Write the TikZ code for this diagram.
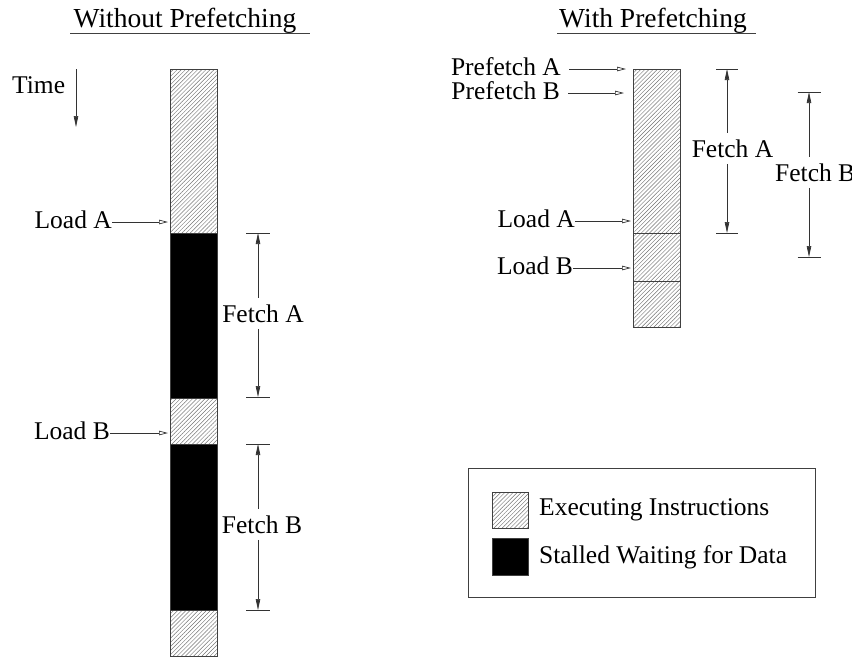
\documentclass[tikz,border=0pt]{standalone}
\usepackage{fontspec}
\setmainfont{Liberation Serif}
\usetikzlibrary{patterns.meta,arrows.meta}
\begin{document}
\begin{tikzpicture}[x=1pt,y=-1pt,
  lbl/.style={inner sep=0pt, font=\fontsize{25.5}{30}\selectfont},
  ttl/.style={inner sep=0pt, font=\fontsize{27.5}{32}\selectfont},
  dimlbl/.style={lbl, inner ysep=6.5pt},
  hatch/.style={draw=black!75, line width=0.8pt, pattern={Lines[angle=45,distance=2.9pt,line width=0.45pt]}, pattern color=black!55},
  stall/.style={draw=black!75, line width=0.8pt, fill=black},
  ptr/.style={draw=black!80, line width=0.7pt, -{Triangle[open,length=9pt,width=4.5pt]}},
  dimup/.style={draw=black!80, line width=0.7pt, {Triangle[length=11pt,width=4.5pt]}-},
  dimdown/.style={draw=black!80, line width=0.7pt, -{Triangle[length=11pt,width=4.5pt]}},
  tickline/.style={draw=black!80, line width=0.8pt},
  uline/.style={draw=black!75, line width=0.9pt}]
\useasboundingbox (0,0) rectangle (852,657);

% titles
\node[ttl, anchor=base] (t1) at (185,27) {Without Prefetching};
\node[ttl, anchor=base] (t2) at (653,27) {With Prefetching};
\draw[uline] (70,33) -- (310,33);
\draw[uline] (557,33) -- (756,33);

% time arrow
\node[lbl, anchor=base west] (time) at (12,93) {Time};
\coordinate (tm1) at (76,69);
\coordinate (tm2) at (76,127);
\draw[dimdown] (tm1) -- (tm2);

% left bar
\draw[hatch] (170,69) rectangle (217,233);
\draw[stall] (170,233) rectangle (217,398);
\draw[hatch] (170,398) rectangle (217,444);
\draw[stall] (170,444) rectangle (217,610);
\draw[hatch] (170,610) rectangle (217,656);

% right bar
\draw[hatch] (633,69) rectangle (680,233);
\draw[hatch] (633,233) rectangle (680,281);
\draw[hatch] (633,281) rectangle (680,327);

% left labels and pointers
\node[lbl, anchor=base east] (lla) at (112,228) {Load A};
\node[lbl, anchor=base east] (llb) at (110,439) {Load B};
\coordinate (llaT) at (168,222);
\coordinate (llbT) at (168,433);
\draw[ptr] (llaT -| lla.east) -- (llaT);
\draw[ptr] (llbT -| llb.east) -- (llbT);

% right labels and pointers
\node[lbl, anchor=base east] (pa) at (561,75) {Prefetch A};
\node[lbl, anchor=base east] (pb) at (560,99) {Prefetch B};
\node[lbl, anchor=base east] (rla) at (575,227) {Load A};
\node[lbl, anchor=base east] (rlb) at (573,274) {Load B};
\coordinate (paT) at (626,69);
\coordinate (pbT) at (624,93);
\coordinate (rlaT) at (631,221);
\coordinate (rlbT) at (631,268);
\draw[ptr] ([xshift=8pt]paT -| pa.east) -- (paT);
\draw[ptr] ([xshift=8pt]pbT -| pb.east) -- (pbT);
\draw[ptr] (rlaT -| rla.east) -- (rlaT);
\draw[ptr] (rlbT -| rlb.east) -- (rlbT);

% left Fetch A
\coordinate (fa1t) at (258,233);
\coordinate (fa1b) at (258,397);
\node[dimlbl, anchor=base] (fa1) at (263,322) {Fetch A};
\draw[tickline] ([xshift=-12pt]fa1t) -- ([xshift=12pt]fa1t);
\draw[tickline] ([xshift=-12pt]fa1b) -- ([xshift=12pt]fa1b);
\draw[dimup] (fa1t) -- (fa1t |- fa1.north);
\draw[dimdown] (fa1b |- fa1.south) -- (fa1b);

% left Fetch B
\coordinate (fb1t) at (258,444);
\coordinate (fb1b) at (258,610);
\node[dimlbl, anchor=base] (fb1) at (262,533) {Fetch B};
\draw[tickline] ([xshift=-12pt]fb1t) -- ([xshift=12pt]fb1t);
\draw[tickline] ([xshift=-12pt]fb1b) -- ([xshift=12pt]fb1b);
\draw[dimup] (fb1t) -- (fb1t |- fb1.north);
\draw[dimdown] (fb1b |- fb1.south) -- (fb1b);

% right Fetch A
\coordinate (fa2t) at (727,69);
\coordinate (fa2b) at (727,233);
\node[dimlbl, anchor=base] (fa2) at (732.5,157) {Fetch A};
\draw[tickline] ([xshift=-11pt]fa2t) -- ([xshift=11pt]fa2t);
\draw[tickline] ([xshift=-11pt]fa2b) -- ([xshift=11pt]fa2b);
\draw[dimup] (fa2t) -- (fa2t |- fa2.north);
\draw[dimdown] (fa2b |- fa2.south) -- (fa2b);

% right Fetch B
\coordinate (fb2t) at (809,92);
\coordinate (fb2b) at (809,257);
\node[dimlbl, anchor=base west] (fb2) at (775,181) {Fetch B};
\draw[tickline] ([xshift=-11.5pt]fb2t) -- ([xshift=11.5pt]fb2t);
\draw[tickline] ([xshift=-11.5pt]fb2b) -- ([xshift=11.5pt]fb2b);
\draw[dimup] (fb2t) -- (fb2t |- fb2.north);
\draw[dimdown] (fb2b |- fb2.south) -- (fb2b);

% legend
\draw[draw=black!75, line width=0.8pt] (468,468) rectangle (815,597);
\draw[hatch] (492,492) rectangle (528,528);
\draw[stall] (492,538) rectangle (528,575);
\node[lbl, anchor=base west] (lg1) at (539,515) {Executing Instructions};
\node[lbl, anchor=base west] (lg2) at (539,563) {Stalled Waiting for Data};
\end{tikzpicture}
\end{document}
